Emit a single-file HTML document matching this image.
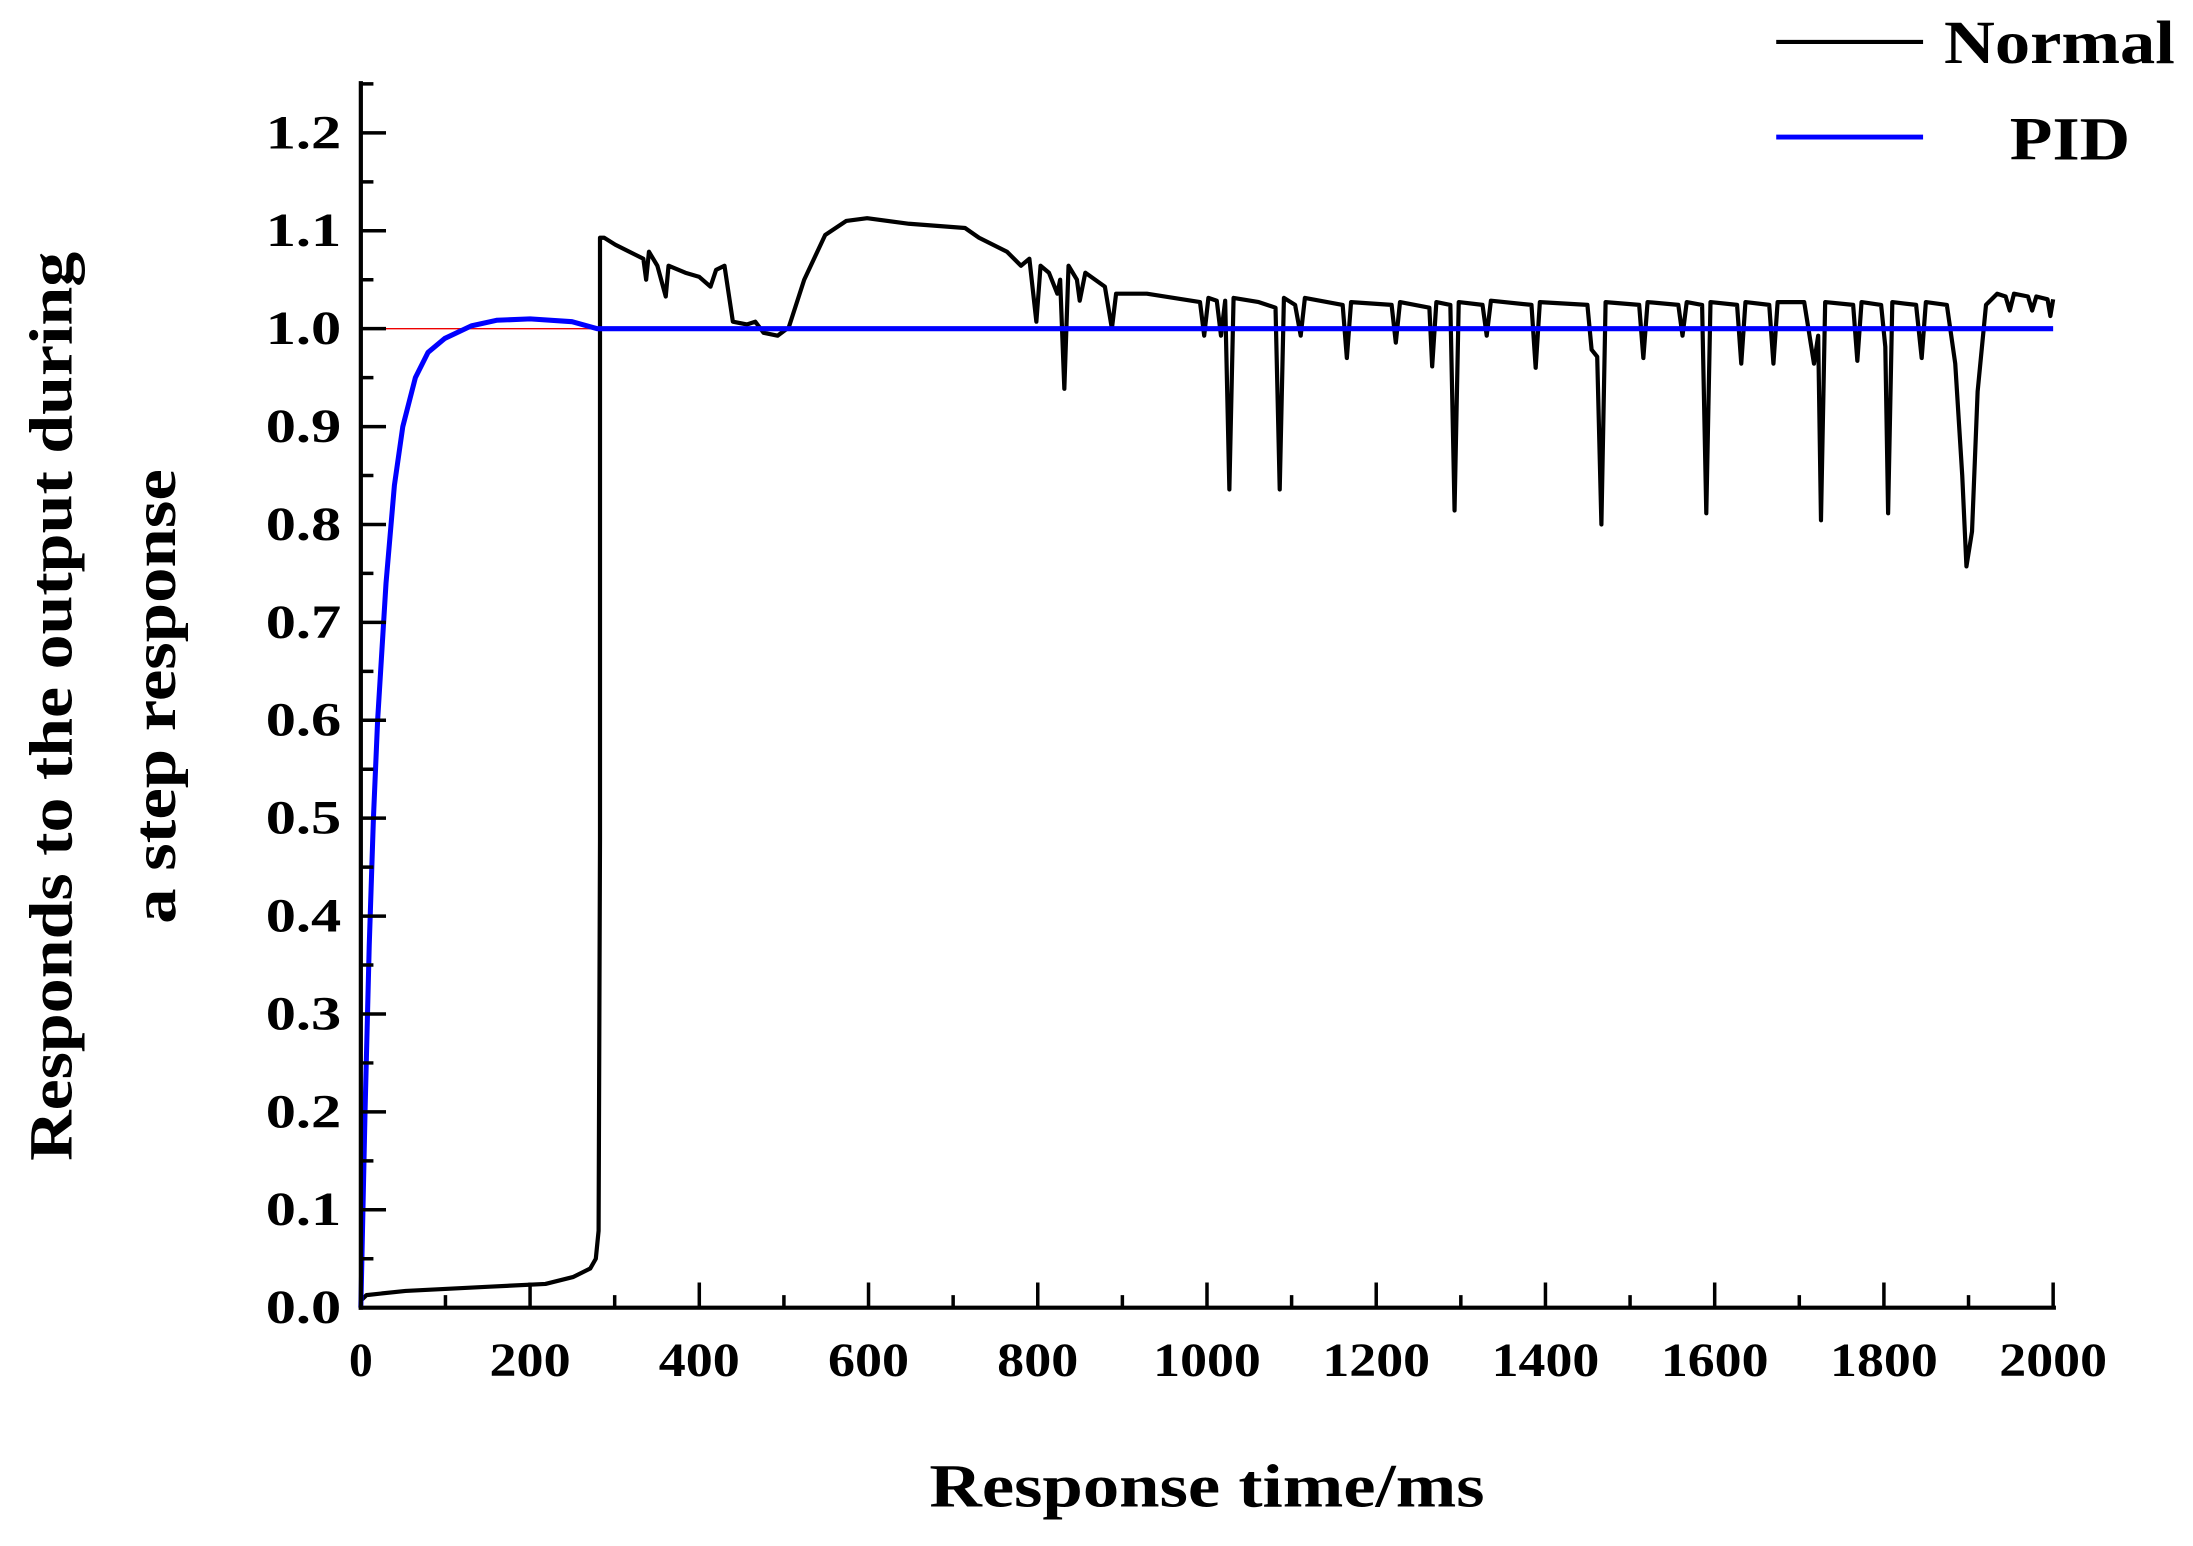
<!DOCTYPE html>
<html><head><meta charset="utf-8"><style>html,body{margin:0;padding:0;background:#fff}svg{display:block}</style></head>
<body>
<svg width="2193" height="1546" viewBox="0 0 2193 1546" xmlns="http://www.w3.org/2000/svg">
<g transform="scale(1.3986)" font-family="'Liberation Serif',serif" font-weight="bold" fill="#000">
<line x1="258" y1="235" x2="430" y2="235" stroke="#e00" stroke-width="1"/>
<path fill="none" stroke="#000" stroke-width="3" stroke-linejoin="round" d="M258,930 L262,926 L290,923 L350,920 L390,918 L410,913 L422,907 L426,900 L428,880 L429,600 L429,170 L432,170 L440,175 L450,180 L460,185 L462,200 L464,180 L470,190 L476,212 L478,190 L490,195 L500,198 L508,205 L512,193 L518,190 L521,210 L524,230 L534,232 L540,230 L546,238 L556,240 L564,234 L575,200 L590,168 L605,158 L620,156 L650,160 L690,163 L700,170 L720,180 L730,190 L736,185 L741,230 L744,190 L750,195 L756,210 L758,200 L761,278 L764,190 L770,200 L772,215 L776,195 L790,205 L795,235 L798,210 L820,210 L858,216 L861,240 L864,213 L870,215 L873,240 L876,215 L879,350 L882,213 L900,216 L912,220 L915,350 L918,213 L926,218 L930,240 L933,213 L960,218 L963,256 L966,216 L995,218 L998,245 L1001,216 L1022,220 L1024,262 L1027,216 L1037,218 L1040,365 L1043,216 L1060,218 L1063,240 L1066,215 L1095,218 L1098,263 L1101,216 L1135,218 L1138,250 L1142,255 L1145,375 L1148,216 L1172,218 L1175,256 L1178,216 L1200,218 L1203,240 L1206,216 L1217,218 L1220,367 L1223,216 L1242,218 L1245,260 L1248,216 L1265,218 L1268,260 L1271,216 L1290,216 L1297,260 L1300,240 L1302,372 L1305,216 L1325,218 L1328,258 L1331,216 L1345,218 L1348,248 L1350,367 L1353,216 L1370,218 L1374,256 L1377,216 L1392,218 L1398,260 L1403,340 L1406,405 L1410,380 L1414,280 L1420,218 L1428,210 L1434,212 L1437,222 L1440,210 L1450,212 L1453,222 L1456,212 L1464,214 L1466,226 L1468,214"/>
<path fill="none" stroke="#0000ff" stroke-width="3.6" stroke-linejoin="round" d="M258,935 L261,795 L264,676 L267,585 L270,515 L276,417 L282,347 L288,305 L297,270 L306,252 L318,242 L337,233 L355,229 L379,228 L409,230 L427,235 L1468,235"/>
<g stroke="#000" stroke-width="3">
<line x1="258" y1="58" x2="258" y2="936.5"/>
<line x1="256.5" y1="935" x2="1470" y2="935"/>
</g>
<g stroke="#000" stroke-width="2.5">
<path d="M258,935h18M258,865h18M258,795h18M258,725h18M258,655h18M258,585h18M258,515h18M258,445h18M258,375h18M258,305h18M258,235h18M258,165h18M258,95h18"/>
<path d="M258,900h9M258,830h9M258,760h9M258,690h9M258,620h9M258,550h9M258,480h9M258,410h9M258,340h9M258,270h9M258,200h9M258,130h9M258,60h9"/>
<path d="M379,935v-18M500,935v-18M621,935v-18M742,935v-18M863,935v-18M984,935v-18M1105,935v-18M1226,935v-18M1347,935v-18M1468,935v-18"/>
<path d="M318.5,935v-9M439.5,935v-9M560.5,935v-9M681.5,935v-9M802.5,935v-9M923.5,935v-9M1044.5,935v-9M1165.5,935v-9M1286.5,935v-9M1407.5,935v-9"/>
</g>
<g font-size="34" text-anchor="end">
<text x="244" y="946" textLength="54" lengthAdjust="spacingAndGlyphs">0.0</text><text x="244" y="876" textLength="54" lengthAdjust="spacingAndGlyphs">0.1</text><text x="244" y="806" textLength="54" lengthAdjust="spacingAndGlyphs">0.2</text><text x="244" y="736" textLength="54" lengthAdjust="spacingAndGlyphs">0.3</text><text x="244" y="666" textLength="54" lengthAdjust="spacingAndGlyphs">0.4</text><text x="244" y="596" textLength="54" lengthAdjust="spacingAndGlyphs">0.5</text><text x="244" y="526" textLength="54" lengthAdjust="spacingAndGlyphs">0.6</text><text x="244" y="456" textLength="54" lengthAdjust="spacingAndGlyphs">0.7</text><text x="244" y="386" textLength="54" lengthAdjust="spacingAndGlyphs">0.8</text><text x="244" y="316" textLength="54" lengthAdjust="spacingAndGlyphs">0.9</text><text x="244" y="246" textLength="54" lengthAdjust="spacingAndGlyphs">1.0</text><text x="244" y="176" textLength="54" lengthAdjust="spacingAndGlyphs">1.1</text><text x="244" y="106" textLength="54" lengthAdjust="spacingAndGlyphs">1.2</text>
</g>
<g font-size="34" text-anchor="middle">
<text x="258" y="984">0</text><text x="379" y="984" textLength="58" lengthAdjust="spacingAndGlyphs">200</text><text x="500" y="984" textLength="58" lengthAdjust="spacingAndGlyphs">400</text><text x="621" y="984" textLength="58" lengthAdjust="spacingAndGlyphs">600</text><text x="742" y="984" textLength="58" lengthAdjust="spacingAndGlyphs">800</text><text x="863" y="984" textLength="77" lengthAdjust="spacingAndGlyphs">1000</text><text x="984" y="984" textLength="77" lengthAdjust="spacingAndGlyphs">1200</text><text x="1105" y="984" textLength="77" lengthAdjust="spacingAndGlyphs">1400</text><text x="1226" y="984" textLength="77" lengthAdjust="spacingAndGlyphs">1600</text><text x="1347" y="984" textLength="77" lengthAdjust="spacingAndGlyphs">1800</text><text x="1468" y="984" textLength="77" lengthAdjust="spacingAndGlyphs">2000</text>
</g>
<text x="863" y="1077" font-size="44" text-anchor="middle" textLength="397" lengthAdjust="spacingAndGlyphs">Response time/ms</text>
<g font-size="44" text-anchor="middle">
<text transform="translate(51,505) rotate(-90)" textLength="650" lengthAdjust="spacingAndGlyphs">Responds to the output during</text>
<text transform="translate(125,498) rotate(-90)" textLength="325" lengthAdjust="spacingAndGlyphs">a step response</text>
</g>
<line x1="1270" y1="30" x2="1375" y2="30" stroke="#000" stroke-width="3"/>
<text x="1390" y="45" font-size="44" textLength="165" lengthAdjust="spacingAndGlyphs">Normal</text>
<line x1="1270" y1="98" x2="1375" y2="98" stroke="#0000ff" stroke-width="3.5"/>
<text x="1437" y="114" font-size="44" textLength="86" lengthAdjust="spacingAndGlyphs">PID</text>
</g>
</svg>
</body></html>
